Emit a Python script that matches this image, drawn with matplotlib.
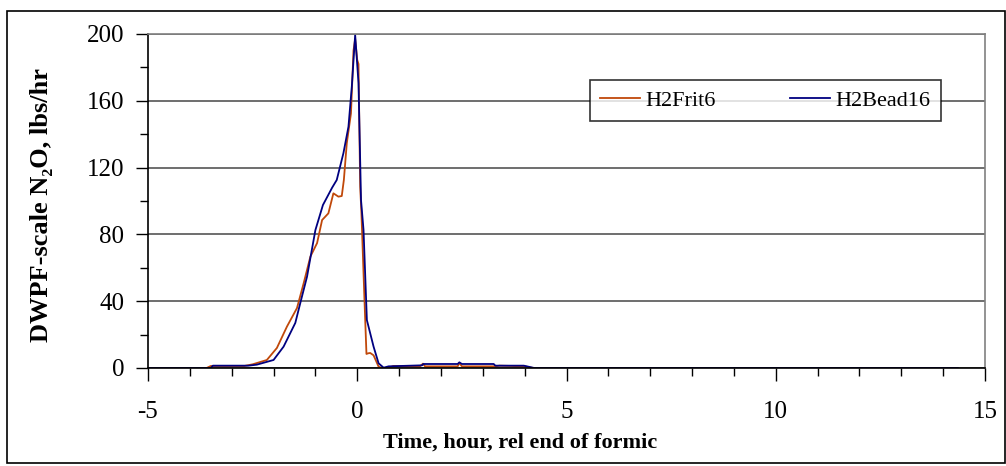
import numpy as np
import matplotlib
matplotlib.use("Agg")
import matplotlib.pyplot as plt
from matplotlib.patches import Rectangle
from matplotlib.ticker import MultipleLocator

plt.rcParams['font.family'] = ['Liberation Serif', 'DejaVu Serif']
plt.rcParams['axes.unicode_minus'] = False

# H2Frit6 run (hours rel. end of formic, lbs/hr N2O)
frit_t = [-5.0, -3.6, -3.5, -2.7, -2.5, -2.16, -1.92, -1.68, -1.44, -1.28, -1.12,
          -0.96, -0.84, -0.69, -0.57, -0.45, -0.37, -0.32, -0.25, -0.15, -0.09,
          -0.05, 0.0, 0.03, 0.07, 0.10, 0.17, 0.22, 0.26, 0.31, 0.39, 0.51, 0.59,
          0.75, 0.86, 1.5, 1.57, 1.62, 2.40, 2.44, 2.50, 3.3, 3.4, 4.0, 4.2, 14.35]
frit_n2o = [0.0, 0.0, 1.2, 1.2, 2.2, 4.8, 12.0, 24.8, 35.9, 50.8, 66.7,
            74.8, 88.6, 92.6, 104.6, 102.6, 103.0, 112.6, 134.6, 152.5, 190.0,
            197.0, 184.4, 182.0, 108.6, 92.6, 42.7, 8.4, 8.8, 9.0, 7.6, 0.8, 0.0,
            0.0, 1.2, 1.0, 2.6, 1.0, 1.0, 3.0, 1.0, 1.0, 1.4, 1.0, 0.0, 0.0]

# H2Bead16 run
bead_t = [-5.0, -3.5, -3.45, -2.6, -2.4, -2.0, -1.76, -1.48, -1.36, -1.20, -1.0,
          -0.82, -0.60, -0.49, -0.33, -0.21, -0.13, -0.05, 0.03, 0.09, 0.15,
          0.23, 0.39, 0.51, 0.63, 0.75, 1.55, 1.58, 1.62, 2.40, 2.44, 2.50, 3.26,
          3.3, 3.98, 4.23, 14.35]
bead_n2o = [0.0, 0.0, 1.4, 1.4, 2.0, 4.8, 12.8, 27.0, 39.0, 54.7, 82.6,
            97.6, 108.0, 112.6, 128.7, 144.5, 168.5, 199.4, 170.6, 100.6, 82.6,
            28.7, 12.8, 2.8, 0.2, 1.0, 1.6, 2.4, 2.4, 2.4, 3.4, 2.4, 2.4,
            1.4, 1.4, 0.0, 0.0]

fig = plt.figure(figsize=(10.06, 4.66), dpi=100)
ax = fig.add_axes([148/1006, (466-368)/466, 837/1006, 334/466])

# outer chart border
fig.patches.append(Rectangle((7/1006, 3/466), 998/1006, 452/466, transform=fig.transFigure,
                             fill=False, edgecolor='black', linewidth=1.2))

ax.yaxis.grid(True, color='#555555', linewidth=1.2)
ax.set_axisbelow(True)

ax.plot(frit_t, frit_n2o, color='#C0480A', linewidth=1.3, label='H2Frit6')
ax.plot(bead_t, bead_n2o, color='#000080', linewidth=1.3, label='H2Bead16')

ax.set_xlim(-5, 15)
ax.set_ylim(0, 200)
ax.xaxis.set_major_locator(MultipleLocator(5))
ax.xaxis.set_minor_locator(MultipleLocator(1))
ax.yaxis.set_major_locator(MultipleLocator(40))
ax.yaxis.set_minor_locator(MultipleLocator(20))
ax.tick_params(axis='both', which='major', length=9, width=1, labelsize=18, direction='out')
ax.tick_params(axis='both', which='minor', length=6, width=1, direction='out')
ax.tick_params(axis='x', pad=15)
ax.tick_params(axis='y', pad=8)

for s in ['top', 'right']:
    ax.spines[s].set_color('#808080')
    ax.spines[s].set_linewidth(1.2)
for s in ['left', 'bottom']:
    ax.spines[s].set_color('black')
    ax.spines[s].set_linewidth(1.2)

ax.set_xlabel('Time, hour, rel end of formic', fontsize=16, fontweight='bold')
ax.xaxis.set_label_coords((520 - 148) / 837, -(443 - 368) / 334)
ax.xaxis.label.set_va('center')
ax.set_ylabel('DWPF-scale N\u2082O, lbs/hr', fontsize=19, fontweight='bold')
ax.yaxis.set_label_coords(-(148 - 42) / 837, (368 - 205) / 334)
ax.yaxis.label.set_va('center')

leg = ax.legend(loc='center', bbox_to_anchor=(0.528, 0.734, 0.419, 0.134), ncol=2,
                mode='expand', borderaxespad=0, fontsize=16, frameon=True, fancybox=False,
                shadow=False, handlelength=1.8, handletextpad=0.25, columnspacing=1.4,
                borderpad=0.45)
leg.get_frame().set_edgecolor('black')
leg.get_frame().set_linewidth(1.2)

fig.savefig('out.png', dpi=100)
